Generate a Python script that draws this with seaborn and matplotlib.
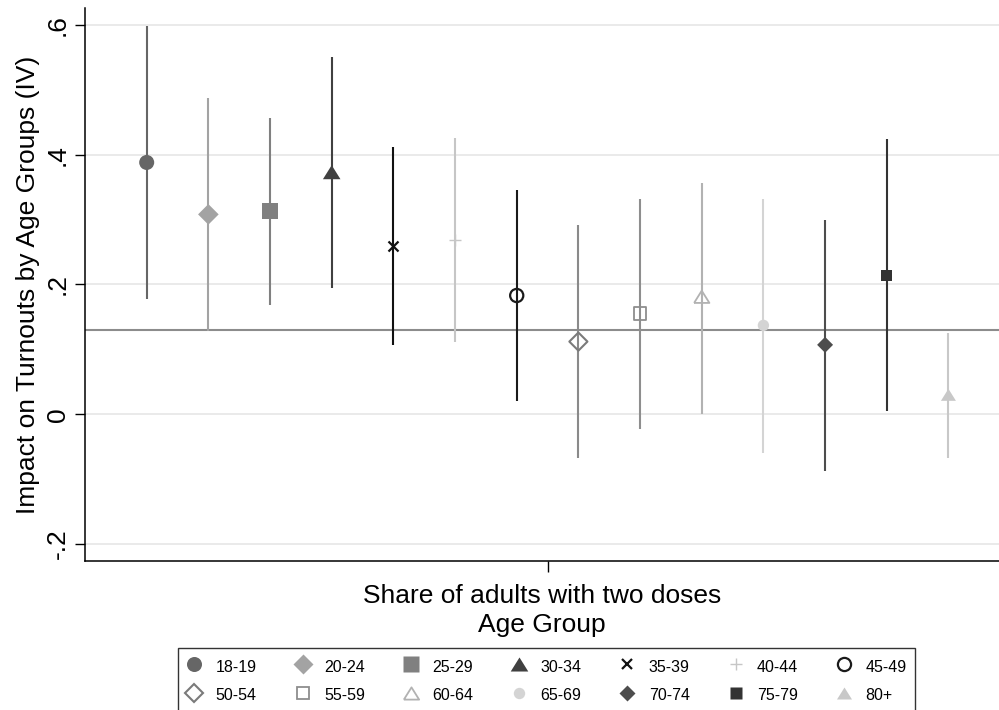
import numpy as np
import pandas as pd
import matplotlib
matplotlib.use("Agg")
import matplotlib.pyplot as plt
from matplotlib.lines import Line2D
import seaborn as sns

# ---------------- data ----------------
age_groups = ["18-19", "20-24", "25-29", "30-34", "35-39", "40-44", "45-49",
              "50-54", "55-59", "60-64", "65-69", "70-74", "75-79", "80+"]
estimates = [0.388, 0.308, 0.313, 0.373, 0.259, 0.268, 0.183,
             0.112, 0.155, 0.181, 0.137, 0.107, 0.214, 0.030]
ci_low = [0.178, 0.129, 0.168, 0.194, 0.107, 0.111, 0.020,
          -0.067, -0.022, 0.001, -0.059, -0.087, 0.005, -0.067]
ci_high = [0.598, 0.487, 0.457, 0.550, 0.412, 0.426, 0.346,
           0.291, 0.332, 0.357, 0.332, 0.300, 0.424, 0.125]
reference_value = 0.13
y_ticks = [-0.2, 0.0, 0.2, 0.4, 0.6]
y_tick_labels = ["-.2", "0", ".2", ".4", ".6"]
x_label = "Share of adults with two doses\nAge Group"
y_label = "Impact on Turnouts by Age Groups (IV)"

# ---------------- styles ----------------
tri = [(-1, -0.8), (1, -0.8), (0, 0.8), (-1, -0.8)]
markers = ["o", "D", "s", tri, "x", "+", "o",
           "D", "s", tri, "o", "D", "s", tri]
colors = ["#666666", "#a3a3a3", "#808080", "#404040", "#111111", "#c6c6c6", "#1a1a1a",
          "#7a7a7a", "#8e8e8e", "#b2b2b2", "#d4d4d4", "#4d4d4d", "#333333", "#c8c8c8"]
line_colors = ["#666666", "#a3a3a3", "#808080", "#404040", "#111111", "#c6c6c6", "#1a1a1a",
               "#8a8a8a", "#8e8e8e", "#b2b2b2", "#d4d4d4", "#4d4d4d", "#333333", "#c8c8c8"]
hollow = [False, False, False, False, False, False, True,
          True, True, True, False, False, False, False]
sizes = [117, 110, 132, 160, 52, 74, 90, 85, 81, 121, 67, 66, 64, 117]
mlw = [0, 0, 0, 0, 1.6, 1.0, 1.6, 1.5, 1.3, 1.3, 0, 0, 0, 0]

df = pd.DataFrame({"group": age_groups, "est": estimates,
                   "lo": ci_low, "hi": ci_high})
df["pos"] = np.arange(1, len(df) + 1)

sns.set_style("white")
plt.rcParams["font.family"] = ["Liberation Sans", "DejaVu Sans"]
plt.rcParams.update({"text.color": "black", "axes.labelcolor": "black",
                     "xtick.color": "black", "ytick.color": "black"})

fig = plt.figure(figsize=(9.99, 7.10), dpi=100)
ax = fig.add_axes([0.0851, 0.2099, 0.9149, 0.7784])

ax.set_ylim(-0.226, 0.6255)
ax.set_xlim(0, 14.82)
ax.set_yticks(y_ticks)
ax.set_yticklabels(y_tick_labels, rotation=90, va="center")
ax.set_xticks([7.5])
ax.set_xticklabels([""])
ax.yaxis.grid(True, color="#e8e8e8", lw=1.3)
ax.xaxis.grid(False)
ax.set_axisbelow(True)

ax.axhline(reference_value, color="#8c8c8c", lw=1.5, zorder=1.5)

for i, row in df.iterrows():
    ax.vlines(row["pos"], row["lo"], row["hi"], color=line_colors[i], lw=1.5, zorder=2)

for i, row in df.iterrows():
    sub = df.iloc[[i]]
    kw = dict(marker=markers[i], s=sizes[i], ax=ax, zorder=3, legend=False)
    if hollow[i]:
        sns.scatterplot(data=sub, x="pos", y="est", color=colors[i],
                        facecolor="none", edgecolor=colors[i], linewidth=mlw[i], **kw)
    elif mlw[i] > 0:
        sns.scatterplot(data=sub, x="pos", y="est", color=colors[i],
                        edgecolor=colors[i], linewidth=mlw[i], **kw)
    else:
        sns.scatterplot(data=sub, x="pos", y="est", color=colors[i],
                        edgecolor="none", linewidth=0, **kw)

for s in ["top", "right"]:
    ax.spines[s].set_visible(False)
for s in ["left", "bottom"]:
    ax.spines[s].set_color("black")
    ax.spines[s].set_linewidth(1.1)

ax.tick_params(axis="y", length=7, width=1.0, pad=4, labelsize=19, color="black",
               labelcolor="black", left=True, direction="out")
ax.tick_params(axis="x", length=8, width=1.0, color="black", bottom=True, direction="out")
ax.set_xlabel(x_label, fontsize=19, labelpad=5, linespacing=1.28, color="black")
ax.set_ylabel(y_label, fontsize=19, labelpad=4, color="black")

# legend
handles = []
for i in range(len(age_groups)):
    ms = np.sqrt(sizes[i])
    if hollow[i]:
        h = Line2D([], [], ls="none", marker=markers[i], markersize=ms,
                   markerfacecolor="none", markeredgecolor=colors[i], markeredgewidth=mlw[i])
    elif mlw[i] > 0:
        h = Line2D([], [], ls="none", marker=markers[i], markersize=ms,
                   color=colors[i], markeredgewidth=mlw[i])
    else:
        h = Line2D([], [], ls="none", marker=markers[i], markersize=ms,
                   markerfacecolor=colors[i], markeredgecolor="none")
    handles.append(h)

ncol = 7
order = []
for c in range(ncol):
    order += [c, c + ncol]
leg = fig.legend([handles[k] for k in order], [age_groups[k] for k in order],
                 ncol=ncol, loc="upper left",
                 bbox_to_anchor=(177.7 / 999, 1 - 648.3 / 710),
                 bbox_transform=fig.transFigure, frameon=True, fancybox=False,
                 edgecolor="black", fontsize=11.5, handlelength=1.0,
                 handleheight=1.4, handletextpad=0.84, columnspacing=2.37,
                 borderpad=0.55, labelspacing=0.62, borderaxespad=0)
leg.get_frame().set_linewidth(1.0)
for t in leg.get_texts():
    t.set_color("black")

fig.savefig("out.png", dpi=100)
